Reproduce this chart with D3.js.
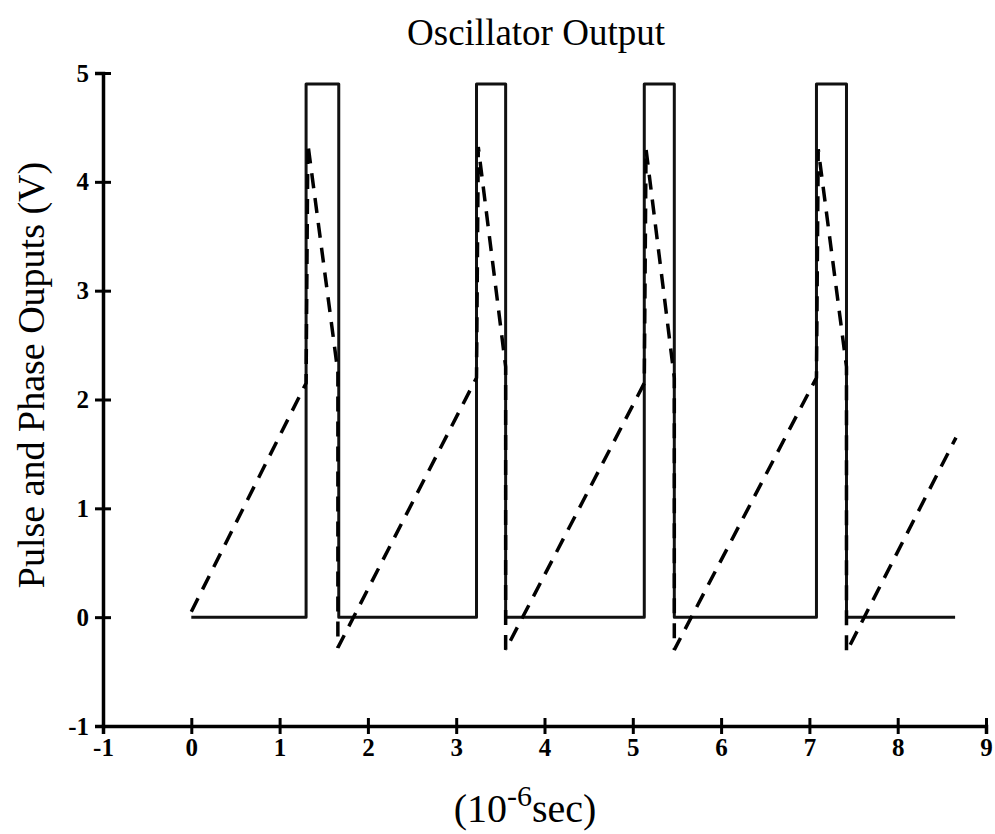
<!DOCTYPE html>
<html>
<head>
<meta charset="utf-8">
<script src="https://cdn.jsdelivr.net/npm/d3@7"></script>
<style>
  body { margin: 0; background: #fff; }
  svg { font-family: "Liberation Serif", "Times New Roman", serif; }
</style>
</head>
<body>
<div id="chart"></div>
<script>
// declaring variables
const FRAME_WIDTH = 995;
const FRAME_HEIGHT = 834;
const MARGINS = {left: 103, right: 9, top: 73, bottom: 108};

// chart data
const X_TICKS = [-1, 0, 1, 2, 3, 4, 5, 6, 7, 8, 9];
const Y_TICKS = [-1, 0, 1, 2, 3, 4, 5];

// pulse output (solid)
const PULSE_T = [0, 1.30, 1.30, 1.67, 1.67, 3.23, 3.23, 3.56, 3.56, 5.13, 5.13, 5.47, 5.47, 7.08, 7.08, 7.42, 7.42, 8.65];
const PULSE_V = [0, 0, 4.9, 4.9, 0, 0, 4.9, 4.9, 0, 0, 4.9, 4.9, 0, 0, 4.9, 4.9, 0, 0];

// phase output (dashed)
const PHASE_T = [0, 1.30, 1.32, 1.66, 1.66, 3.23, 3.25, 3.56, 3.56, 5.13, 5.15, 5.47, 5.47, 7.08, 7.10, 7.42, 7.42, 8.66];
const PHASE_V = [0.05, 2.15, 4.35, 2.25, -0.28, 2.2, 4.32, 2.3, -0.3, 2.15, 4.3, 2.2, -0.3, 2.2, 4.3, 2.3, -0.32, 1.65];

const VIS_WIDTH = FRAME_WIDTH - MARGINS.left - MARGINS.right;
const VIS_HEIGHT = FRAME_HEIGHT - MARGINS.top - MARGINS.bottom;

const FRAME = d3.select('#chart')
    .append('svg')
        .attr('width', FRAME_WIDTH)
        .attr('height', FRAME_HEIGHT);

// scales
const X_SCALE = d3.scaleLinear()
    .domain([-1, 9])
    .range([MARGINS.left, MARGINS.left + VIS_WIDTH]);

const Y_SCALE = d3.scaleLinear()
    .domain([-1, 5])
    .range([MARGINS.top + VIS_HEIGHT, MARGINS.top]);

// y axis
const yAxis = FRAME.append('g')
    .attr('transform', 'translate(' + X_SCALE(-1) + ',0)')
    .call(d3.axisLeft(Y_SCALE).tickValues(Y_TICKS).tickSize(8).tickPadding(6).tickFormat(d => String(d)));

// x axis
const xAxis = FRAME.append('g')
    .attr('transform', 'translate(0,' + Y_SCALE(-1) + ')')
    .call(d3.axisBottom(X_SCALE).tickValues(X_TICKS).tickSize(8).tickPadding(4).tickFormat(d => String(d)));

// ticks cross the axis line
yAxis.selectAll('.tick line').attr('x1', 8);
xAxis.selectAll('.tick line').attr('y1', -8);

[yAxis, xAxis].forEach(ax => {
    ax.select('.domain').attr('stroke-width', 3.5).attr('stroke', '#000');
    ax.selectAll('.tick line').attr('stroke-width', 3).attr('stroke', '#000');
    ax.selectAll('.tick text')
        .attr('fill', '#000')
        .attr('font-size', '25px')
        .attr('font-weight', 'bold')
        .attr('font-family', '"Liberation Serif", serif');
});

// line generator
const line = d3.line()
    .x(d => X_SCALE(d[0]))
    .y(d => Y_SCALE(d[1]));

// pulse (solid)
FRAME.append('path')
    .datum(PULSE_T.map((t, i) => [t, PULSE_V[i]]))
    .attr('d', line)
    .attr('fill', 'none')
    .attr('stroke', '#111')
    .attr('stroke-width', 3)
    .attr('stroke-linejoin', 'round');

// phase (dashed)
FRAME.append('path')
    .datum(PHASE_T.map((t, i) => [t, PHASE_V[i]]))
    .attr('d', line)
    .attr('fill', 'none')
    .attr('stroke', '#000')
    .attr('stroke-width', 3.5)
    .attr('stroke-dasharray', '15,10');

// title
FRAME.append('text')
    .attr('x', 536)
    .attr('y', 45)
    .attr('text-anchor', 'middle')
    .attr('font-size', '37px')
    .text('Oscillator Output');

// y label
FRAME.append('text')
    .attr('transform', 'translate(44,375) rotate(-90)')
    .attr('text-anchor', 'middle')
    .attr('font-size', '38px')
    .text('Pulse and Phase Ouputs (V)');

// x label
const xLabel = FRAME.append('text')
    .attr('x', 525)
    .attr('y', 822)
    .attr('text-anchor', 'middle')
    .attr('font-size', '40px');
xLabel.append('tspan').text('(10');
xLabel.append('tspan').attr('font-size', '30px').attr('dy', -16).text('-6');
xLabel.append('tspan').attr('dy', 16).text('sec)');
</script>
</body>
</html>
